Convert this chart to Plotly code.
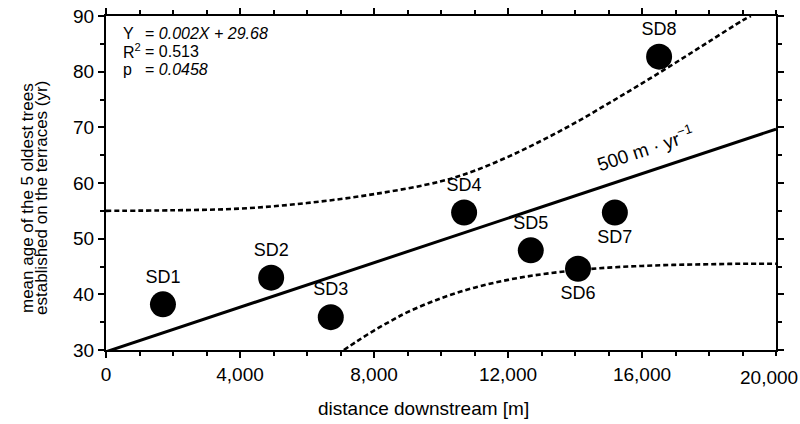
import plotly.graph_objects as go

# ---- data ----
sites = ["SD1", "SD2", "SD3", "SD4", "SD5", "SD6", "SD7", "SD8"]
distance_m = [1700, 4930, 6710, 10690, 12680, 14090, 15190, 16510]
mean_age_yr = [38.2, 43.0, 35.9, 54.7, 47.9, 44.6, 54.7, 82.7]
label_pos = ["top center", "top center", "top center", "top center",
             "top center", "bottom center", "bottom center", "top center"]

reg_x = [0, 20000]
reg_slope = 0.002
reg_intercept = 29.68

upper_x = [0, 2000, 4000, 6000, 8000, 10000, 11000, 12000, 13000, 14000,
           15000, 16000, 17000, 18000, 19000, 19250]
upper_y = [55.0, 55.1, 55.4, 56.4, 58.0, 60.3, 62.2, 64.7, 67.6, 70.8,
           74.3, 77.9, 81.6, 85.4, 89.2, 90.0]

lower_x = [7100, 7500, 8000, 8500, 9000, 10000, 11000, 12000, 13000, 14000,
           15000, 16000, 17000, 18000, 19000, 20000]
lower_y = [30.0, 31.6, 33.5, 35.2, 36.8, 39.3, 41.2, 42.6, 43.6, 44.3,
           44.8, 45.1, 45.3, 45.4, 45.5, 45.5]

x_tickvals = [0, 4000, 8000, 12000, 16000]
x_ticktext = ["0", "4,000", "8,000", "12,000", "16,000"]
x_last_tick = 20000
x_last_text = "20,000"
y_tickvals = [30, 40, 50, 60, 70, 80, 90]

FONT = "Liberation Sans, Arial, sans-serif"

PLOT_L, PLOT_R, PLOT_T, PLOT_B = 106, 776, 16, 350   # pixel positions of plot area
W, H = 800, 424


def px_x(px):
    return (px - PLOT_L) / (PLOT_R - PLOT_L)


def px_y(py):
    return (PLOT_B - py) / (PLOT_B - PLOT_T)


fig = go.Figure()

fig.add_trace(go.Scatter(
    x=upper_x, y=upper_y, mode="lines", line_shape="spline",
    line=dict(color="black", width=2.6, dash="5px,3px"),
    hoverinfo="skip", showlegend=False))
fig.add_trace(go.Scatter(
    x=lower_x, y=lower_y, mode="lines", line_shape="spline",
    line=dict(color="black", width=2.6, dash="5px,3px"),
    hoverinfo="skip", showlegend=False))
fig.add_trace(go.Scatter(
    x=reg_x, y=[reg_intercept + reg_slope * v for v in reg_x], mode="lines",
    line=dict(color="black", width=3),
    hoverinfo="skip", showlegend=False))
fig.add_trace(go.Scatter(
    x=distance_m, y=mean_age_yr, mode="markers+text",
    text=sites, textposition=label_pos,
    textfont=dict(family=FONT, size=18, color="black"),
    marker=dict(color="black", size=26),
    showlegend=False))

axis_common = dict(
    showline=True, linecolor="black", linewidth=2, mirror="allticks",
    ticks="outside", ticklen=6, tickwidth=1.5, tickcolor="black",
    showgrid=False, zeroline=False, automargin=False,
    tickfont=dict(family=FONT, size=19, color="black"),
    ticklabeloverflow="allow",
)

fig.update_xaxes(
    range=[0, 20000], tickmode="array", tickvals=x_tickvals, ticktext=x_ticktext,
    minor=dict(dtick=1000, ticks="outside", ticklen=4, tickcolor="black", tickwidth=1.5),
    **axis_common)
fig.update_yaxes(
    range=[30, 90], tickmode="array", tickvals=y_tickvals,
    minor=dict(dtick=5, ticks="outside", ticklen=4, tickcolor="black", tickwidth=1.5),
    **axis_common)

annotations = []
# last x tick label, kept inside the page like in the reference
annotations.append(dict(
    text=x_last_text, x=x_last_tick, y=px_y(377), xref="x", yref="paper",
    xanchor="center", xshift=-7, yanchor="middle", showarrow=False,
    font=dict(family=FONT, size=19, color="black")))
# x-axis title
annotations.append(dict(
    text="distance downstream [m]", x=px_x(423), y=px_y(408), xref="paper", yref="paper",
    xanchor="center", yanchor="middle", showarrow=False,
    font=dict(family=FONT, size=19, color="black")))
# y-axis title as two rotated lines
for txt, px in [("mean age of the 5 oldest trees", 27),
                ("established on the terraces (yr)", 41)]:
    annotations.append(dict(
        text=txt, textangle=-90, x=px_x(px), y=px_y(198), xref="paper", yref="paper",
        xanchor="center", yanchor="middle", showarrow=False,
        font=dict(family=FONT, size=17, color="black")))

# statistics block
stat_rows = [("Y", "= <i>0.002X + 29.68</i>", 33),
             ("R<sup>2</sup>", "= 0.513", 51),
             ("p", "= <i>0.0458</i>", 69)]
for lab, val, py in stat_rows:
    annotations.append(dict(text=lab, x=px_x(121), y=px_y(py), xref="paper", yref="paper",
                            xanchor="left", yanchor="middle", showarrow=False,
                            font=dict(family=FONT, size=16, color="black")))
    annotations.append(dict(text=val, x=px_x(143), y=px_y(py), xref="paper", yref="paper",
                            xanchor="left", yanchor="middle", showarrow=False,
                            font=dict(family=FONT, size=16, color="black")))

annotations.append(dict(
    text="500 m · yr<sup>−1</sup>", x=16100, y=66.2, xref="x", yref="y",
    textangle=-18.5, showarrow=False, xanchor="center", yanchor="middle",
    font=dict(family=FONT, size=19, color="black")))

fig.update_layout(
    width=W, height=H,
    margin=dict(l=PLOT_L, r=W - PLOT_R, t=PLOT_T, b=H - PLOT_B, pad=0),
    plot_bgcolor="white", paper_bgcolor="white",
    annotations=annotations,
    hovermode=False,
    font=dict(family=FONT, color="black"),
)

fig.write_html("out.html", config={"displayModeBar": False},
               post_script="document.body.style.margin='0px';")
